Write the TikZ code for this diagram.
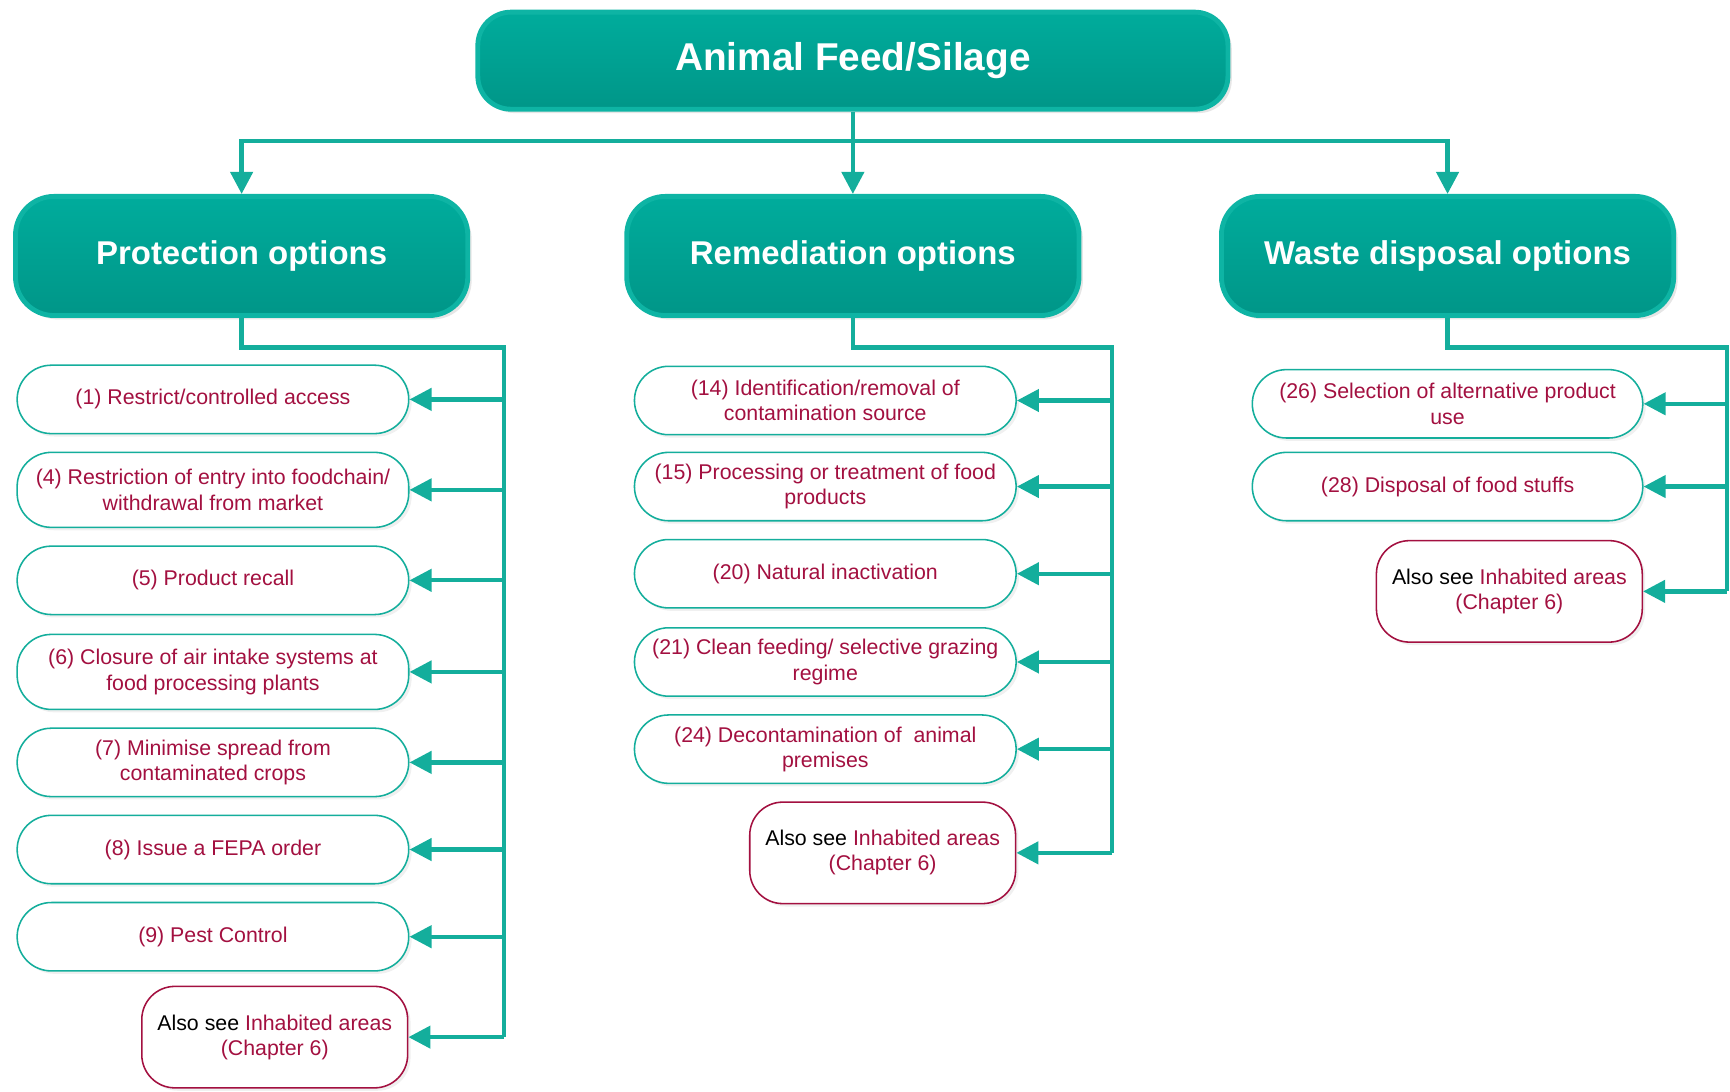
\documentclass[tikz,border=0pt]{standalone}
\usepackage{fontspec}
\setmainfont{Liberation Sans}
\usetikzlibrary{arrows.meta,shadows}
\definecolor{tealline}{RGB}{20,174,156}
\definecolor{tealtop}{RGB}{0,172,156}
\definecolor{tealbot}{RGB}{0,150,136}
\definecolor{tealrim}{RGB}{14,180,164}
\definecolor{crimson}{RGB}{163,16,64}
\begin{document}
\begin{tikzpicture}[x=0.02cm, y=-0.02cm,
	root/.style = {rectangle, rounded corners=0.6cm, top color=tealtop, bottom color=tealbot, draw=tealrim, line width=2.5pt, text=white, font=\bfseries\fontsize{20}{24}\selectfont, minimum width=13.6cm, minimum height=1.76cm, drop shadow={opacity=0.2, shadow xshift=2pt, shadow yshift=-2pt}},
	head/.style = {root, rounded corners=0.7cm, font=\bfseries\fontsize{17}{20}\selectfont, minimum width=8.2cm, minimum height=2.16cm},
	opt/.style = {rectangle, rounded corners=0.62cm, draw=tealline, line width=0.8pt, fill=white, text=crimson, align=center, font=\fontsize{11}{13}\selectfont, minimum height=1.24cm, drop shadow={opacity=0.12, shadow xshift=1.5pt, shadow yshift=-1.5pt}},
	also/.style = {opt, draw=crimson, rounded corners=0.6cm, minimum width=4.82cm, minimum height=1.84cm},
	link/.style = {draw=tealline, line width=2.2pt},
	arr/.style = {link, -{Triangle[length=0.4cm, width=0.4cm]}}]
	\useasboundingbox (0,0) rectangle (1568,989);

	\node[root] (top) at (773,55) {Animal Feed/Silage};
	\node[head] (prot) at (219,232) {Protection options};
	\node[head] (rem) at (773,232) {Remediation options};
	\node[head] (waste) at (1312,232) {Waste disposal options};

	\node[opt, minimum width=7.1cm] (p1) at (193,362) {(1) Restrict/controlled access};
	\node[opt, minimum width=7.1cm, minimum height=1.36cm] (p4) at (193,444) {(4) Restriction of entry into foodchain/\\withdrawal from market};
	\node[opt, minimum width=7.1cm] (p5) at (193,526) {(5) Product recall};
	\node[opt, minimum width=7.1cm, minimum height=1.36cm] (p6) at (193,609) {(6) Closure of air intake systems at\\food processing plants};
	\node[opt, minimum width=7.1cm] (p7) at (193,691) {(7) Minimise spread from\\contaminated crops};
	\node[opt, minimum width=7.1cm] (p8) at (193,770) {(8) Issue a FEPA order};
	\node[opt, minimum width=7.1cm] (p9) at (193,849) {(9) Pest Control};
	\node[also] (pa) at (249,940) {\textcolor{black}{Also see} Inhabited areas\\(Chapter 6)};

	\node[opt, minimum width=6.92cm] (r14) at (748,363) {(14) Identification/removal of\\contamination source};
	\node[opt, minimum width=6.92cm] (r15) at (748,441) {(15) Processing or treatment of food\\products};
	\node[opt, minimum width=6.92cm] (r20) at (748,520) {(20) Natural inactivation};
	\node[opt, minimum width=6.92cm] (r21) at (748,600) {(21) Clean feeding/ selective grazing\\regime};
	\node[opt, minimum width=6.92cm] (r24) at (748,679) {(24) Decontamination of\ \ animal\\premises};
	\node[also] (ra) at (800,773) {\textcolor{black}{Also see} Inhabited areas\\(Chapter 6)};

	\node[opt, minimum width=7.08cm] (w26) at (1312,366) {(26) Selection of alternative product\\use};
	\node[opt, minimum width=7.08cm] (w28) at (1312,441) {(28) Disposal of food stuffs};
	\node[also] (wa) at (1368,536) {\textcolor{black}{Also see} Inhabited areas\\(Chapter 6)};

	\coordinate (bus) at (773,128);
	\coordinate (pt) at (457,315);
	\coordinate (rt) at (1008,315);
	\coordinate (wt) at (1565,315);

	\draw[link] (top.south) -- (bus);
	\draw[arr] (bus) -- (rem.north);
	\draw[arr] (bus) -| (prot.north);
	\draw[arr] (bus) -| (waste.north);

	\draw[link] (prot.south) |- (pt) -- (pt |- pa.east);
	\draw[arr] (pt |- p1.east) -- (p1.east);
	\draw[arr] (pt |- p4.east) -- (p4.east);
	\draw[arr] (pt |- p5.east) -- (p5.east);
	\draw[arr] (pt |- p6.east) -- (p6.east);
	\draw[arr] (pt |- p7.east) -- (p7.east);
	\draw[arr] (pt |- p8.east) -- (p8.east);
	\draw[arr] (pt |- p9.east) -- (p9.east);
	\draw[arr] (pt |- pa.east) -- (pa.east);

	\draw[link] (rem.south) |- (rt) -- (rt |- ra.east);
	\draw[arr] (rt |- r14.east) -- (r14.east);
	\draw[arr] (rt |- r15.east) -- (r15.east);
	\draw[arr] (rt |- r20.east) -- (r20.east);
	\draw[arr] (rt |- r21.east) -- (r21.east);
	\draw[arr] (rt |- r24.east) -- (r24.east);
	\draw[arr] (rt |- ra.east) -- (ra.east);

	\draw[link] (waste.south) |- (wt) -- (wt |- wa.east);
	\draw[arr] (wt |- w26.east) -- (w26.east);
	\draw[arr] (wt |- w28.east) -- (w28.east);
	\draw[arr] (wt |- wa.east) -- (wa.east);
\end{tikzpicture}
\end{document}
